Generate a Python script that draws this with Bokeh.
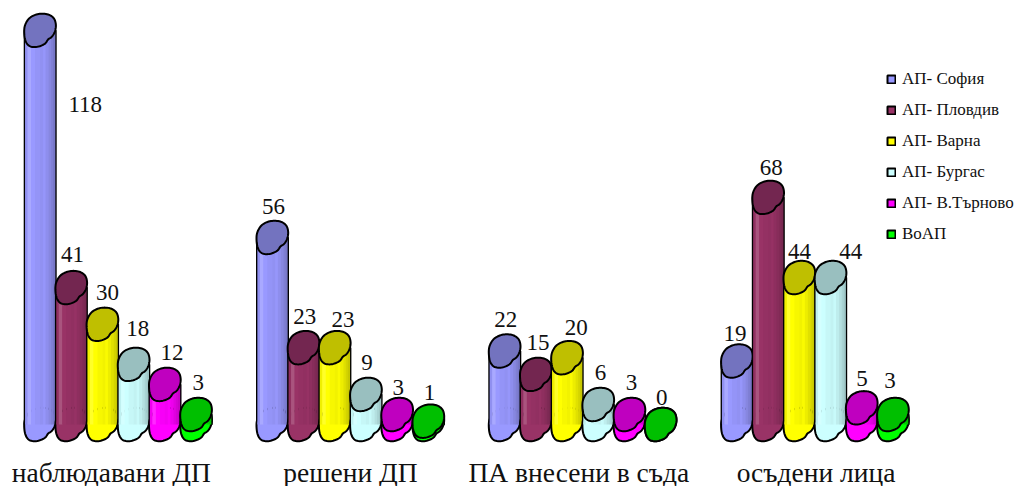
import numpy as np
from bokeh.embed import file_html
from bokeh.resources import INLINE
from bokeh.plotting import figure
from bokeh.models import ColumnDataSource, FixedTicker, Legend, LegendItem, Range1d
from bokeh.core.properties import value

categories = ["наблюдавани ДП", "решени ДП", "ПА внесени в съда", "осъдени лица"]
series_names = ["АП- София", "АП- Пловдив", "АП- Варна", "АП- Бургас", "АП- В.Търново", "ВоАП"]
sofia = [118, 56, 22, 19]
plovdiv = [41, 23, 15, 68]
varna = [30, 23, 20, 44]
burgas = [18, 9, 6, 44]
tarnovo = [12, 3, 3, 5]
voap = [3, 1, 0, 3]
series_values = [sofia, plovdiv, varna, burgas, tarnovo, voap]
colors = ["#9999FF", "#993366", "#FFFF00", "#CCFFFF", "#FF00FF", "#00FF00"]
cap_colors = ["#7373BF", "#732650", "#BFBF00", "#99BFBF", "#BF00BF", "#00BF00"]

# value-label offsets (px) relative to the top of each bar, per series then category
label_dx = [[45, 1, 1, -2], [1, 1, 2, 3], [5, 8, 9, 0], [4, 1, 2, 20], [7, 1, 2, 0], [2, 1, 1, -3]]
label_dy = [[-74, 31, 32, 28], [33, 31, 32, 30], [32, 28, 30, 26], [36, 32, 32, 26], [32, 27, 32, 29], [32, 29, 27, 34]]

PX_X = 232.3
PX_Y = 3.34
W, H = 1018, 486
FRAME_H = 445

# cap outline in px relative to its centre
outline = np.array([(2, -16.7), (9, -15.5), (14, -11.5), (15.7, -5), (14.5, 1.7), (11.5, 6.5),
                    (8, 9), (4.5, 13.5), (-3, 16.5), (-10, 16), (-14, 12), (-15.8, 5),
                    (-15.5, -4), (-11.5, -11.5), (-5, -15.5)])


def smooth(points, n=6):
    out = []
    m = len(points)
    for i in range(m):
        p0, p1, p2, p3 = points[i - 1], points[i], points[(i + 1) % m], points[(i + 2) % m]
        for t in np.linspace(0, 1, n, endpoint=False):
            out.append(0.5 * (2 * p1 + (p2 - p0) * t + (2 * p0 - 5 * p1 + 4 * p2 - p3) * t ** 2
                              + (3 * p1 - p0 - 3 * p2 + p3) * t ** 3))
    return np.array(out)


shape = smooth(outline)
shape_x = shape[:, 0] / PX_X
shape_y = -shape[:, 1] / PX_Y


def shade(hex_color, factor):
    rgb = np.array([int(hex_color[i:i + 2], 16) for i in (1, 3, 5)], dtype=float)
    if factor <= 1:
        rgb = rgb * factor
    else:
        rgb = rgb + (255 - rgb) * (factor - 1) * 2
    return "#%02x%02x%02x" % tuple(int(round(c)) for c in np.clip(rgb, 0, 255))


strip_edges = np.array([-15, -12.5, -9, -5, 0, 3, 5.5, 8.5, 11, 13, 15])
strip_shades = [0.94, 1.08, 1.0, 0.97, 0.95, 0.98, 0.93, 0.88, 0.83, 0.78]

p = figure(width=W, height=H, frame_width=W, frame_height=FRAME_H, output_backend="svg",
           toolbar_location=None, min_border=0, outline_line_color=None,
           x_range=Range1d((0 - 117.7) / PX_X, (W - 117.7) / PX_X),
           y_range=Range1d((424 - FRAME_H) / PX_Y, 424 / PX_Y))
p.grid.visible = False
p.yaxis.visible = False
ax = p.xaxis[0]
tick_pos = [-0.03, 1.0, 1.983, 3.004]
ax.ticker = FixedTicker(ticks=tick_pos)
ax.major_label_overrides = {t: c for t, c in zip(tick_pos, categories)}
ax.axis_line_color = None
ax.major_tick_line_color = None
ax.minor_tick_line_color = None
ax.major_label_text_font = "Liberation Serif"
ax.major_label_text_font_size = "27.5px"
ax.major_label_text_color = "#111111"
ax.major_label_standoff = 5

group = np.arange(len(categories), dtype=float)
legend_items = []
lx, ly, lt, ldx, ldy = [], [], [], [], []
for i, vals in enumerate(series_values):
    vals = np.array(vals, dtype=float)
    cx = group + (i - 2.5) * 31.2 / PX_X
    body = p.vbar(x=cx, top=vals, bottom=0, width=31 / PX_X, fill_color=colors[i],
                  line_color="black", line_width=2)
    legend_items.append(LegendItem(label=series_names[i], renderers=[body]))
    p.patches([list(c + shape_x) for c in cx], [list(shape_y) for _ in cx],
              fill_color=colors[i], line_color="black", line_width=2)
    for j, sh in enumerate(strip_shades):
        mid = (strip_edges[j] + strip_edges[j + 1]) / 2 / PX_X
        wid = (strip_edges[j + 1] - strip_edges[j] + 0.3) / PX_X
        p.vbar(x=cx + mid, top=vals, bottom=0, width=wid, fill_color=shade(colors[i], sh), line_color=None)
    p.patches([list(c + shape_x) for c in cx], [list(v + shape_y) for v in vals],
              fill_color=cap_colors[i], line_color="black", line_width=2)
    lx += list(cx)
    ly += list(vals)
    lt += [str(int(v)) for v in vals]
    ldx += label_dx[i]
    ldy += label_dy[i]

src = ColumnDataSource(dict(x=lx, y=ly, t=lt, dx=ldx, dy=[-d for d in ldy]))
p.text(x="x", y="y", text="t", x_offset="dx", y_offset="dy", source=src,
       text_font=value("Liberation Serif"), text_font_size="23px", text_color="#111111",
       text_align="center", text_baseline="alphabetic")

legend = Legend(items=legend_items, location=(886, FRAME_H - 244), orientation="vertical",
                background_fill_alpha=0, border_line_color=None, padding=4, margin=0,
                spacing=11, glyph_width=10, glyph_height=10, label_height=20,
                label_standoff=6, label_text_font="Liberation Serif",
                label_text_font_size="17px", label_text_color="#111111")
p.add_layout(legend, "center")

open("out.html", "w").write(file_html(p, INLINE))
